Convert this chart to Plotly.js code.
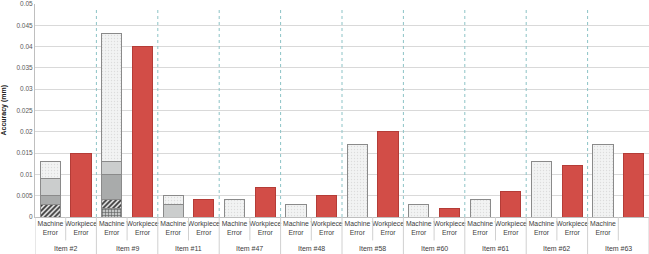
<!DOCTYPE html>
<html><head><meta charset="utf-8">
<script src="https://cdn.plot.ly/plotly-3.0.1.min.js"></script>
<style>html,body{margin:0;padding:0;background:#fff}#chart{width:649px;height:254px}</style>
</head><body><div id="chart"></div>
<script>
const items = ['Item #2','Item #9','Item #11','Item #47','Item #48','Item #58','Item #60','Item #61','Item #62','Item #63'];
const subLabels = ['Machine<br>Error','Workpiece<br>Error'];
// Machine error stacked components (mm)
const crossHatch = [null,0.002,null,null,null,null,null,null,null,null];
const hatch      = [0.003,0.002,null,null,null,null,null,null,null,null];
const darkGrey   = [0.002,0.006,null,null,null,null,null,null,null,null];
const medGrey    = [0.004,0.003,0.003,null,null,null,null,null,null,null];
const lightPart  = [0.004,0.030,0.002,0.004,0.003,0.017,0.003,0.004,0.013,0.017];
// Workpiece error (mm)
const workpiece  = [0.015,0.040,0.004,0.007,0.005,0.020,0.002,0.006,0.012,0.015];
const yTicks = [0,0.005,0.01,0.015,0.02,0.025,0.03,0.035,0.04,0.045,0.05];

const FONT = '"Liberation Sans",Arial,sans-serif';
const mX = items.map((_, i) => 2*i);
const wX = items.map((_, i) => 2*i+1);
const W = 0.66;
const edge = {color:'#8a8a8a', width:1};

function seg(vals, color, pattern){
  const m = {color:color, line:edge};
  if (pattern) m.pattern = pattern;
  return {type:'bar', x:mX, y:vals, width:W, hoverinfo:'skip', showlegend:false, marker:m};
}
const traces = [
  seg(crossHatch, '#8e9090', {shape:'+', fgcolor:'#5a5c5c', bgcolor:'#c4c6c6', size:3, solidity:0.35}),
  seg(hatch, '#555555', {shape:'/', fgcolor:'#3a3a3a', bgcolor:'#e4e4e4', size:3.5, solidity:0.5}),
  seg(darkGrey, '#a9abab', null),
  seg(medGrey, '#cbcdcd', null),
  seg(lightPart, '#f1f2f2', {shape:'.', fgcolor:'#dcdcdc', bgcolor:'#f2f3f3', size:3, solidity:0.15}),
  {type:'bar', x:wX, y:workpiece, width:W, hoverinfo:'skip', showlegend:false,
    marker:{color:'#d24d47', line:{color:'#b43c37', width:1}}}
];

const shapes = [];
for (let i = 1; i < items.length; i++) {
  const xb = 2*i - 0.5;
  shapes.push({type:'line', xref:'x', yref:'y', x0:xb, x1:xb, y0:0, y1:0.049,
    line:{color:'#8cc3c6', width:1, dash:'dot'}});
}
for (let i = 0; i <= items.length; i++) {
  const xb = 2*i - 0.5;
  shapes.push({type:'line', xref:'x', yref:'paper', x0:xb, x1:xb, y0:0, y1:-0.18,
    line:{color:'#d0d0d0', width:1}});
}
for (let i = 0; i < items.length; i++) {
  const xb = 2*i + 0.5;
  shapes.push({type:'line', xref:'x', yref:'paper', x0:xb, x1:xb, y0:0, y1:-0.11,
    line:{color:'#d0d0d0', width:1}});
}
const annotations = items.map((t, i) => ({xref:'x', yref:'paper', x:2*i+0.5, y:-0.148,
  text:t, showarrow:false, yanchor:'middle', font:{family:FONT, size:7, color:'#404040'}}));
annotations.push({xref:'paper', yref:'paper', x:-0.052, y:0.5, text:'<b>Accuracy (mm)</b>',
  textangle:-90, showarrow:false, xanchor:'center', yanchor:'middle',
  font:{family:FONT, size:7, color:'#222'}});

const layout = {
  width:649, height:254, margin:{l:35, r:0, t:4, b:37},
  paper_bgcolor:'#fff', plot_bgcolor:'#fff', barmode:'stack', bargap:0,
  font:{family:FONT, size:7, color:'#404040'},
  xaxis:{range:[-0.5, 19.5], tickmode:'array', tickvals:[...Array(20).keys()],
    ticktext:[...Array(20).keys()].map(k => subLabels[k%2]), showgrid:false, zeroline:false,
    showline:true, linecolor:'#bfbfbf', ticks:'', fixedrange:true,
    tickfont:{family:FONT, size:6.8, color:'#404040'}, tickangle:0},
  yaxis:{range:[0,0.05], tickmode:'array', tickvals:yTicks,
    ticktext:yTicks.map(v => String(v)), showgrid:true, gridcolor:'#d9d9d9', zeroline:false,
    showline:true, linecolor:'#bfbfbf', ticks:'', tickfont:{family:FONT, size:6.5, color:'#595959'}},
  shapes:shapes, annotations:annotations
};
Plotly.newPlot('chart', traces, layout, {staticPlot:true, displayModeBar:false});
</script></body></html>
